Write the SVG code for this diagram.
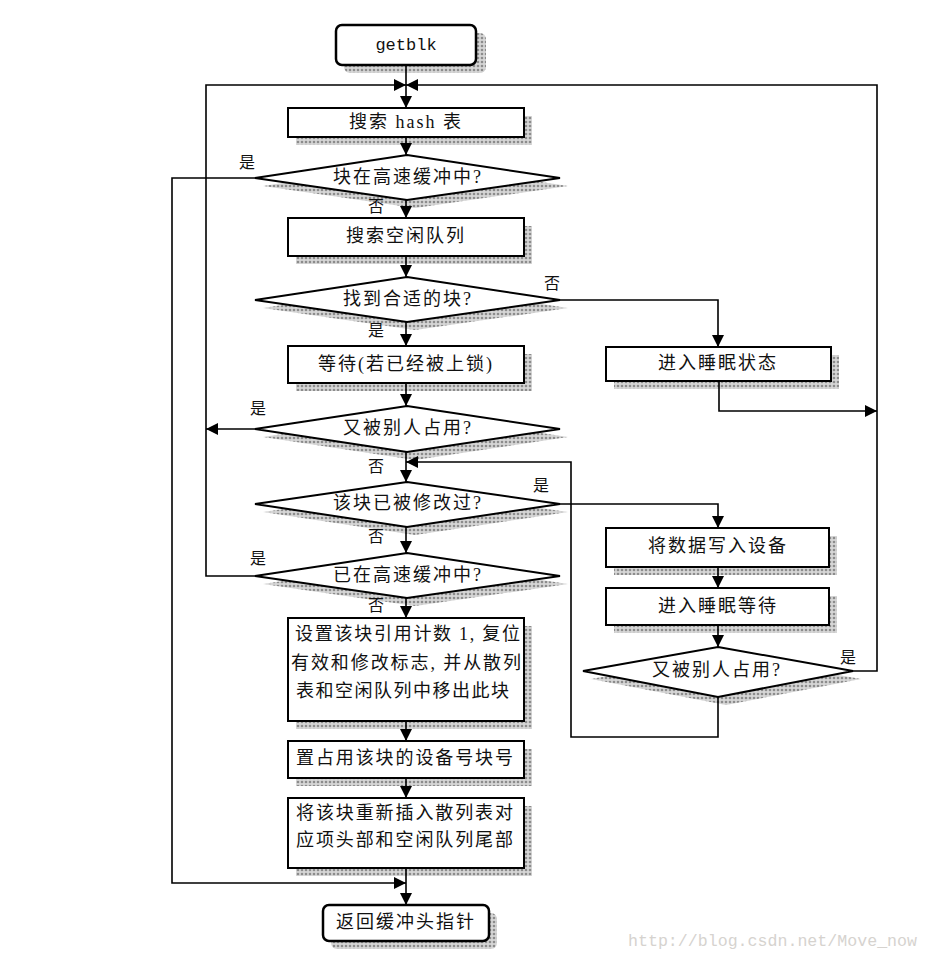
<svg xmlns="http://www.w3.org/2000/svg" width="929" height="966" viewBox="0 0 929 966">
<style>
.box{fill:#fff;stroke:#000;stroke-width:2}
.term{fill:#fff;stroke:#000;stroke-width:2.5}
.sh{fill:url(#dots);stroke:none}
.t{font-family:"Liberation Serif","Noto Sans CJK SC",serif;font-size:18px;fill:#111;text-anchor:middle;dominant-baseline:central;letter-spacing:2px}
.tl{font-family:"Liberation Serif","Noto Sans CJK SC",serif;font-size:18px;fill:#111;dominant-baseline:central}
.lb{font-family:"Liberation Serif","Noto Sans CJK SC",serif;font-size:16px;fill:#111;text-anchor:middle;dominant-baseline:central}
.mono{font-family:"Liberation Mono",monospace;font-size:17px;fill:#111;text-anchor:middle;dominant-baseline:central}
.ln{fill:none;stroke:#000;stroke-width:1.6}
.arr{marker-end:url(#ah)}
</style>
<defs>
<pattern id="dots" width="4" height="4" patternUnits="userSpaceOnUse">
<rect width="4" height="4" fill="#d6d6d6"/>
<circle cx="2" cy="2" r="1.3" fill="#8c8c8c"/>
</pattern>
<marker id="ah" markerUnits="userSpaceOnUse" markerWidth="13" markerHeight="13" refX="12" refY="6" orient="auto">
<path d="M0,0 L12,6 L0,12 z" fill="#000"/>
</marker>
</defs>

<g id="n_getblk">
<rect class="sh" x="344" y="33" width="142" height="40" rx="6"/>
<rect class="term" x="336" y="25" width="140" height="40" rx="6"/>
<text class="mono" x="406" y="45">getblk</text>
</g>

<g id="n_hash">
<rect class="sh" x="296" y="116" width="236" height="29"/>
<rect class="box" x="288" y="108" width="236" height="29"/>
<text class="t" x="406" y="122">搜索 hash 表</text>
</g>

<g id="n_d1">
<polygon class="sh" points="415,163 568,186 415,208 263,186"/>
<polygon class="box" points="407,155 560,178 407,200 255,178"/>
<text class="t" x="408" y="177">块在高速缓冲中?</text>
</g>

<g id="n_free">
<rect class="sh" x="296" y="226" width="236" height="38"/>
<rect class="box" x="288" y="218" width="236" height="38"/>
<text class="t" x="406" y="236">搜索空闲队列</text>
</g>

<g id="n_d2">
<polygon class="sh" points="415,285 568,308 415,330 263,308"/>
<polygon class="box" points="407,277 560,300 407,322 255,300"/>
<text class="t" x="408" y="299">找到合适的块?</text>
</g>

<g id="n_sleep1">
<rect class="sh" x="614" y="355" width="225" height="34"/>
<rect class="box" x="606" y="347" width="225" height="34"/>
<text class="t" x="718" y="363">进入睡眠状态</text>
</g>

<g id="n_wait">
<rect class="sh" x="296" y="354" width="236" height="37"/>
<rect class="box" x="288" y="346" width="236" height="37"/>
<text class="t" x="406" y="364">等待(若已经被上锁)</text>
</g>

<g id="n_d3">
<polygon class="sh" points="415,414 568,437 415,460 263,437"/>
<polygon class="box" points="407,406 560,429 407,452 255,429"/>
<text class="t" x="408" y="428">又被别人占用?</text>
</g>

<g id="n_d4">
<polygon class="sh" points="415,490 568,512 415,535 263,512"/>
<polygon class="box" points="407,482 560,504 407,527 255,504"/>
<text class="t" x="408" y="503">该块已被修改过?</text>
</g>

<g id="n_d6">
<polygon class="sh" points="415,561 568,584 415,606 263,584"/>
<polygon class="box" points="407,553 560,576 407,598 255,576"/>
<text class="t" x="408" y="575">已在高速缓冲中?</text>
</g>

<g id="n_write">
<rect class="sh" x="614" y="536" width="223" height="39"/>
<rect class="box" x="606" y="528" width="223" height="39"/>
<text class="t" x="718" y="546">将数据写入设备</text>
</g>

<g id="n_sleep2">
<rect class="sh" x="614" y="596" width="223" height="37"/>
<rect class="box" x="606" y="588" width="223" height="37"/>
<text class="t" x="718" y="606">进入睡眠等待</text>
</g>

<g id="n_d5">
<polygon class="sh" points="726,655 861,679 726,705 591,679"/>
<polygon class="box" points="718,647 853,671 718,697 583,671"/>
<text class="t" x="717" y="670">又被别人占用?</text>
</g>

<g id="n_set">
<rect class="sh" x="296" y="626" width="236" height="103"/>
<rect class="box" x="288" y="618" width="236" height="103"/>
<text class="tl" x="295" y="634" textLength="225" lengthAdjust="spacing">设置该块引用计数 1, 复位</text>
<text class="tl" x="291" y="663" textLength="230" lengthAdjust="spacing">有效和修改标志, 并从散列</text>
<text class="tl" x="296" y="691" textLength="213" lengthAdjust="spacing">表和空闲队列中移出此块</text>
</g>

<g id="n_dev">
<rect class="sh" x="296" y="749" width="236" height="37"/>
<rect class="box" x="288" y="741" width="236" height="37"/>
<text class="tl" x="296" y="758" textLength="217" lengthAdjust="spacing">置占用该块的设备号块号</text>
</g>

<g id="n_insert">
<rect class="sh" x="296" y="806" width="236" height="70"/>
<rect class="box" x="288" y="798" width="236" height="70"/>
<text class="tl" x="296" y="813" textLength="217" lengthAdjust="spacing">将该块重新插入散列表对</text>
<text class="tl" x="296" y="840" textLength="217" lengthAdjust="spacing">应项头部和空闲队列尾部</text>
</g>

<g id="n_return">
<rect class="sh" x="331" y="913" width="166" height="36" rx="6"/>
<rect class="term" x="323" y="905" width="166" height="36" rx="6"/>
<text class="t" x="406" y="922">返回缓冲头指针</text>
</g>

<g id="connectors">
<path class="ln arr" d="M406,65 L406,108"/>
<path class="ln arr" d="M406,137 L406,155"/>
<path class="ln arr" d="M406,200 L406,218"/>
<path class="ln arr" d="M406,256 L406,277"/>
<path class="ln arr" d="M406,322 L406,346"/>
<path class="ln arr" d="M406,383 L406,406"/>
<path class="ln arr" d="M406,452 L406,482"/>
<path class="ln arr" d="M406,527 L406,553"/>
<path class="ln arr" d="M406,598 L406,618"/>
<path class="ln arr" d="M406,721 L406,741"/>
<path class="ln arr" d="M406,778 L406,798"/>
<path class="ln arr" d="M406,868 L406,905"/>
<path class="ln arr" d="M718,567 L718,588"/>
<path class="ln arr" d="M718,625 L718,647"/>
<path class="ln arr" d="M255,178 L172,178 L172,883 L406,883"/>
<path class="ln arr" d="M560,300 L718,300 L718,347"/>
<path class="ln arr" d="M719,381 L719,411 L877,411"/>
<path class="ln arr" d="M255,429 L206,429"/>
<path class="ln arr" d="M255,576 L206,576 L206,85 L406,85"/>
<path class="ln arr" d="M853,671 L877,671 L877,85 L406,85"/>
<path class="ln arr" d="M560,504 L718,504 L718,528"/>
<path class="ln arr" d="M718,697 L718,737 L571,737 L571,462 L406,462"/>
</g>

<g id="labels">
<text class="lb" x="247" y="162">是</text>
<text class="lb" x="376" y="206">否</text>
<text class="lb" x="552" y="283">否</text>
<text class="lb" x="376" y="330">是</text>
<text class="lb" x="258" y="408">是</text>
<text class="lb" x="376" y="466">否</text>
<text class="lb" x="541" y="485">是</text>
<text class="lb" x="376" y="536">否</text>
<text class="lb" x="258" y="558">是</text>
<text class="lb" x="376" y="605">否</text>
<text class="lb" x="848" y="657">是</text>
</g>

<text x="628" y="946" font-family="Liberation Mono, monospace" font-size="16" fill="#d6d3cf" textLength="289" lengthAdjust="spacingAndGlyphs">http://blog.csdn.net/Move_now</text>
</svg>
